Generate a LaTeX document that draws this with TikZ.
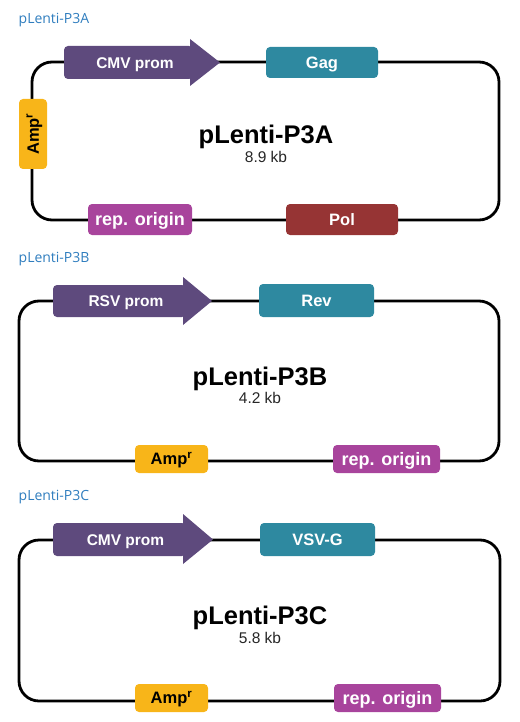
\documentclass[tikz,border=0pt]{standalone}
\usepackage{fontspec}
\usepackage{tikz}
\usepackage{xcolor}
\setmainfont{Liberation Sans}
\newfontfamily\opensans{Open Sans}
\definecolor{prom_col}{HTML}{5E4A7D}
\definecolor{gene_col}{HTML}{2E89A0}
\definecolor{amp_col}{HTML}{F8B519}
\definecolor{ori_col}{HTML}{A8449C}
\definecolor{pol_col}{HTML}{963434}
\definecolor{label_col}{HTML}{2F7DBE}
\tikzset{
    plasmid/.style={line width=2.8pt,rounded corners=20pt},
    feature/.style={rounded corners=4pt,inner sep=0pt,text=white,
      font=\bfseries\fontsize{16.5}{17}\selectfont,text height=11.8pt,text depth=0pt},
    feature_amp/.style={feature,fill=amp_col,text=black},
    feature_ori/.style={feature,fill=ori_col,font=\bfseries\fontsize{18}{18}\selectfont,text height=12.9pt},
    prom_text/.style={inner sep=0pt,text=white,font=\bfseries\fontsize{15.5}{16}\selectfont,
      text height=11.1pt,text depth=0pt},
    map_name/.style={anchor=base,inner sep=0pt,font=\bfseries\fontsize{25.5}{28}\selectfont},
    map_size/.style={anchor=base,inner sep=0pt,text=black!85,font=\fontsize{15.5}{16}\selectfont},
    panel_label/.style={anchor=base west,inner sep=0pt,text=label_col,font=\opensans\fontsize{14}{14}\selectfont},
}

\begin{document}
\begin{tikzpicture}[x=1pt,y=-1pt]
  \useasboundingbox (0,0) rectangle (519,722);
  % pLenti-P3A
  \node[panel_label] (labelA) at (18.5,24) {pLenti-P3A};
  \draw[plasmid] (32,62) rectangle (499,220);
  \fill[prom_col,rounded corners=4pt] (64,46) rectangle (193,79);
  \fill[prom_col] (190,39) -- (220,62.5) -- (190,86) -- cycle;
  \node[prom_text] (cmvA) at (135,62.5) {CMV prom};
  \node[feature,fill=gene_col,minimum width=112,minimum height=31] (gagA) at (322,62.5) {Gag};
  \node[feature_amp,rotate=90,minimum width=70,minimum height=28] (ampA) at (33,134) {Amp\textsuperscript{r}};
  \node[feature_ori,minimum width=104,minimum height=31] (oriA) at (140,219.5) {rep. origin};
  \node[feature,fill=pol_col,minimum width=112,minimum height=31] (polA) at (342,219.5) {Pol};
  \node[map_name] (nameA) at (266,144) {pLenti-P3A};
  \node[map_size] (sizeA) at (266,163) {8.9 kb};
  % pLenti-P3B
  \node[panel_label] (labelB) at (18.5,262) {pLenti-P3B};
  \draw[plasmid] (19,301) rectangle (499,461);
  \fill[prom_col,rounded corners=4pt] (53,285) rectangle (186,317);
  \fill[prom_col] (183,277) -- (212,301) -- (183,325) -- cycle;
  \node[prom_text] (rsvB) at (126,301) {RSV prom};
  \node[feature,fill=gene_col,minimum width=115,minimum height=33] (revB) at (316.5,300.5) {Rev};
  \node[feature_amp,minimum width=73,minimum height=28] (ampB) at (171.5,459) {Amp\textsuperscript{r}};
  \node[feature_ori,minimum width=107,minimum height=28] (oriB) at (386.5,459) {rep. origin};
  \node[map_name] (nameB) at (260,385) {pLenti-P3B};
  \node[map_size] (sizeB) at (260,403) {4.2 kb};
  % pLenti-P3C
  \node[panel_label] (labelC) at (18.5,500) {pLenti-P3C};
  \draw[plasmid] (19,540) rectangle (500,701);
  \fill[prom_col,rounded corners=4pt] (53,523) rectangle (186,556);
  \fill[prom_col] (183,514) -- (213,539.5) -- (183,564) -- cycle;
  \node[prom_text] (cmvC) at (125.5,539.5) {CMV prom};
  \node[feature,fill=gene_col,minimum width=115,minimum height=33] (vsvC) at (317.5,539.5) {VSV-G};
  \node[feature_amp,minimum width=73,minimum height=28] (ampC) at (171.5,698) {Amp\textsuperscript{r}};
  \node[feature_ori,minimum width=107,minimum height=28] (oriC) at (387.5,698) {rep. origin};
  \node[map_name] (nameC) at (260,624) {pLenti-P3C};
  \node[map_size] (sizeC) at (260,643) {5.8 kb};
\end{tikzpicture}
\end{document}
